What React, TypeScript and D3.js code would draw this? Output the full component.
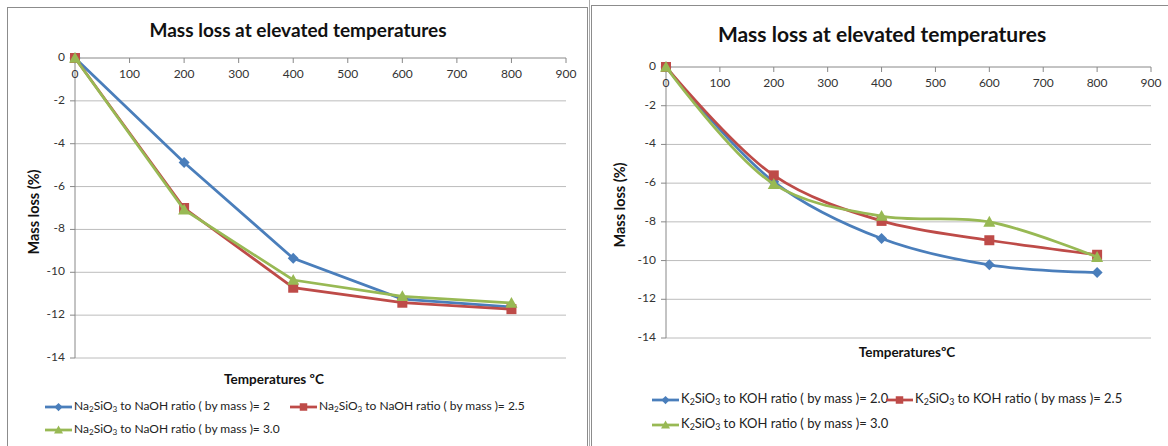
import React from "react";
import * as d3 from "d3";

const temps = [0, 200, 400, 600, 800];
const xTicks = [0, 100, 200, 300, 400, 500, 600, 700, 800, 900];
const yTicks = [0, -2, -4, -6, -8, -10, -12, -14];

const naRatio2 = [0, -4.88, -9.35, -11.25, -11.62];
const naRatio25 = [0, -7.0, -10.72, -11.42, -11.72];
const naRatio30 = [0, -7.08, -10.36, -11.12, -11.43];

const kRatio20 = [0, -5.93, -8.86, -10.22, -10.62];
const kRatio25 = [0, -5.6, -7.95, -8.95, -9.7];
const kRatio30 = [0, -6.05, -7.7, -8.0, -9.82];

const naLabels = ["2", "2.5", "3.0"];
const kLabels = ["2.0", "2.5", "3.0"];

const colors = ["#4a7ebb", "#be4b48", "#98b954"];
const shapes = ["diamond", "square", "triangle"];
const FONT = "Lato, 'Open Sans', sans-serif";

function Marker({ shape, color, x, y, s = 1 }: any) {
  if (shape === "diamond") {
    const r = 5.5 * s;
    return <path d={`M${x},${y - r}L${x + r},${y}L${x},${y + r}L${x - r},${y}Z`} fill={color} />;
  }
  if (shape === "square") {
    const r = 5 * s;
    return <rect x={x - r} y={y - r} width={2 * r} height={2 * r} fill={color} />;
  }
  const r = 6 * s;
  return <path d={`M${x},${y - r}L${x + r},${y + r * 0.8}L${x - r},${y + r * 0.8}Z`} fill={color} />;
}

function LegendText({ x, y, k, value, size }: any) {
  const pre = k ? "K" : "Na";
  const base = k ? " to KOH ratio ( by mass )= " : " to NaOH ratio ( by mass )= ";
  return (
    <text x={x} y={y} fontSize={size} fontFamily={FONT} fill="#222" dominantBaseline="middle">
      {pre}
      <tspan fontSize={size * 0.68} dy={3}>2</tspan>
      <tspan dy={-3}>SiO</tspan>
      <tspan fontSize={size * 0.68} dy={3}>3</tspan>
      <tspan dy={-3}>{base + value}</tspan>
    </text>
  );
}

function Chart(props: any) {
  const { series, x0, x1, y0, y1, smooth, title, titleX, titleY, titleSize, yTitleX, yTitleY, xTitle, xTitleX, xTitleY, legend, k, labels, legendSize } = props;
  const x = d3.scaleLinear().domain([0, 900]).range([x0, x1]);
  const y = d3.scaleLinear().domain([-14, 0]).range([y1, y0]);
  const line = d3
    .line<number>()
    .x((_, i) => x(temps[i]))
    .y((d) => y(d))
    .curve(smooth ? d3.curveCatmullRom.alpha(0.5) : d3.curveLinear);
  return (
    <g>
      <text x={titleX} y={titleY} textAnchor="middle" fontSize={titleSize} fontWeight="bold" fontFamily={FONT} fill="#111">
        {title}
      </text>
      {yTicks.map((t) => (
        <g key={t}>
          {t !== 0 && <line x1={x0} x2={x1} y1={y(t)} y2={y(t)} stroke="#bcbcbc" strokeWidth={1} />}
          <line x1={x0 - 5} x2={x0} y1={y(t)} y2={y(t)} stroke="#888" />
          <text x={x0 - 10} y={y(t)} textAnchor="end" dominantBaseline="middle" fontSize={12} fontFamily={FONT} fill="#333">
            {t}
          </text>
        </g>
      ))}
      <line x1={x0} x2={x0} y1={y0} y2={y1} stroke="#888" />
      <line x1={x0} x2={x1} y1={y0} y2={y0} stroke="#888" />
      {xTicks.map((t) => (
        <g key={t}>
          <line x1={x(t)} x2={x(t)} y1={y0} y2={y0 + 5} stroke="#888" />
          <text x={x(t)} y={y0 + 17} textAnchor="middle" dominantBaseline="middle" fontSize={12} fontFamily={FONT} fill="#333">
            {t}
          </text>
        </g>
      ))}
      <text transform={`translate(${yTitleX},${yTitleY}) rotate(-90)`} textAnchor="middle" dominantBaseline="middle" fontSize={14.5} fontWeight="bold" fontFamily={FONT} fill="#111">
        Mass loss (%)
      </text>
      <text x={xTitleX} y={xTitleY} textAnchor="middle" dominantBaseline="middle" fontSize={13.5} fontWeight="bold" fontFamily={FONT} fill="#111">
        {xTitle}
      </text>
      {series.map((s: number[], i: number) => (
        <g key={i}>
          <path d={line(s) || ""} fill="none" stroke={colors[i]} strokeWidth={2.75} />
          {s.map((v, j) => (
            <Marker key={j} shape={shapes[i]} color={colors[i]} x={x(temps[j])} y={y(v)} />
          ))}
        </g>
      ))}
      {legend.map((p: any, i: number) => (
        <g key={i}>
          <line x1={p[0]} x2={p[0] + 27} y1={p[1]} y2={p[1]} stroke={colors[i]} strokeWidth={2.75} />
          <Marker shape={shapes[i]} color={colors[i]} x={p[0] + 13.5} y={p[1]} s={0.75} />
          <LegendText x={p[0] + 29} y={p[1]} k={k} value={labels[i]} size={legendSize} />
        </g>
      ))}
    </g>
  );
}

export default function App() {
  return (
    <svg width={1168} height={446} style={{ position: "absolute", left: 0, top: 0, background: "#fff" }}>
      <rect x={0} y={0} width={1168} height={446} fill="#fff" />
      <rect x={7.5} y={7.5} width={580} height={460} fill="none" stroke="#8c8c8c" />
      <line x1={589.5} x2={589.5} y1={0} y2={446} stroke="#aaa" />
      <rect x={591.5} y={5.5} width={600} height={460} fill="none" stroke="#8c8c8c" />
      <Chart
        series={[naRatio2, naRatio25, naRatio30]}
        x0={75}
        x1={566}
        y0={58}
        y1={358}
        smooth={false}
        title="Mass loss at elevated temperatures"
        titleX={298}
        titleY={37}
        titleSize={19}
        yTitleX={35}
        yTitleY={212}
        xTitle="Temperatures ºC"
        xTitleX={274}
        xTitleY={381}
        legend={[[45, 407], [290, 407], [45, 430]]}
        k={false}
        labels={naLabels}
        legendSize={12}
      />
      <Chart
        series={[kRatio20, kRatio25, kRatio30]}
        x0={666}
        x1={1151}
        y0={67}
        y1={338}
        smooth={true}
        title="Mass loss at elevated temperatures"
        titleX={882}
        titleY={42}
        titleSize={21}
        yTitleX={621}
        yTitleY={205}
        xTitle="TemperaturesºC"
        xTitleX={907}
        xTitleY={354}
        legend={[[652, 400], [886, 400], [652, 425]]}
        k={true}
        labels={kLabels}
        legendSize={13}
      />
    </svg>
  );
}
